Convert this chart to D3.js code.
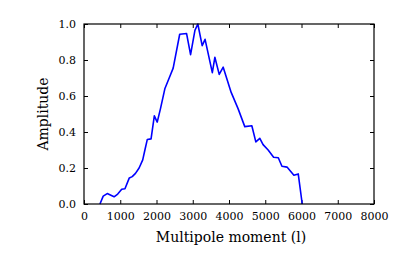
<!DOCTYPE html>
<html><head><meta charset="utf-8">
<script src="https://cdn.jsdelivr.net/npm/d3@7"></script>
<style>body{margin:0;background:#fff}svg{display:block}text{font-family:"DejaVu Serif",serif}</style>
</head><body><svg id="c" width="415" height="256"></svg>
<script>
const multipole = [440, 530, 640, 830, 930, 1040, 1130, 1250, 1330, 1420, 1520, 1620, 1680, 1745, 1850, 1940, 2020, 2110, 2230, 2350, 2460, 2640, 2830, 2940, 3060, 3140, 3260, 3340, 3540, 3610, 3730, 3840, 4060, 4250, 4435, 4630, 4740, 4850, 4940, 5080, 5230, 5360, 5460, 5600, 5790, 5910, 6020];
const amplitude = [0, 0.044, 0.058, 0.04, 0.055, 0.082, 0.085, 0.145, 0.152, 0.17, 0.2, 0.245, 0.3, 0.358, 0.362, 0.49, 0.455, 0.53, 0.64, 0.7, 0.755, 0.943, 0.947, 0.83, 0.965, 1.0, 0.88, 0.915, 0.73, 0.815, 0.72, 0.76, 0.62, 0.53, 0.43, 0.435, 0.345, 0.365, 0.33, 0.3, 0.26, 0.257, 0.21, 0.205, 0.16, 0.167, 0];
const xTicks = [0, 1000, 2000, 3000, 4000, 5000, 6000, 7000, 8000];
const yTicks = [0, 0.2, 0.4, 0.6, 0.8, 1.0];

const svg = d3.select("#c");
const L = 84, R = 374, T = 24, B = 204;
const x = d3.scaleLinear().domain([0, 8000]).range([L, R]);
const y = d3.scaleLinear().domain([0, 1]).range([B, T]);
const tl = 4;

const gb = svg.append("g").attr("transform", `translate(0,${B})`)
  .call(d3.axisBottom(x).tickValues(xTicks).tickFormat(d3.format("d")).tickSize(-tl).tickPadding(8));
const gt = svg.append("g").attr("transform", `translate(0,${T})`)
  .call(d3.axisTop(x).tickValues(xTicks).tickFormat("").tickSize(-tl));
const gl = svg.append("g").attr("transform", `translate(${L},0)`)
  .call(d3.axisLeft(y).tickValues(yTicks).tickFormat(d3.format(".1f")).tickSize(-tl).tickPadding(8));
const gr = svg.append("g").attr("transform", `translate(${R},0)`)
  .call(d3.axisRight(y).tickValues(yTicks).tickFormat("").tickSize(-tl));
[gb, gt, gl, gr].forEach(g => {
  g.select(".domain").remove();
  g.selectAll("line").attr("stroke", "#000").attr("stroke-width", 1);
  g.selectAll("text").attr("fill", "#000").style("font-size", "11px").style("font-family", '"DejaVu Serif", serif');
});

svg.append("path")
  .datum(multipole.map((m, i) => [m, amplitude[i]]))
  .attr("fill", "none").attr("stroke", "#0000ff").attr("stroke-width", 1.6)
  .attr("stroke-linejoin", "round")
  .attr("d", d3.line().x(d => x(d[0])).y(d => y(d[1])));

svg.append("rect").attr("x", L).attr("y", T).attr("width", R - L).attr("height", B - T)
  .attr("fill", "none").attr("stroke", "#000").attr("stroke-width", 1.2);

svg.append("text").attr("x", (L + R) / 2 + 2).attr("y", 242).attr("text-anchor", "middle")
  .style("font-size", "14px").text("Multipole moment (l)");
svg.append("text").attr("transform", `translate(48,${(T + B) / 2}) rotate(-90)`).attr("text-anchor", "middle")
  .style("font-size", "14px").text("Amplitude");
</script></body></html>
